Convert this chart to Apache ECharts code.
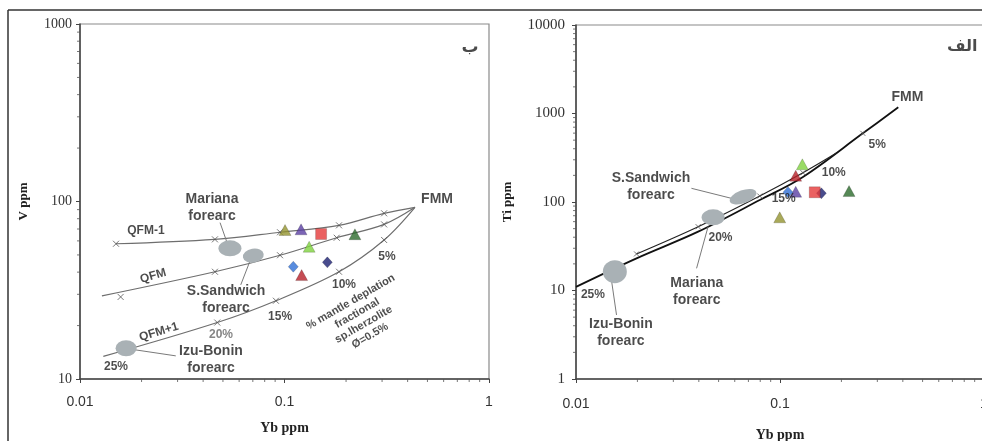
<!DOCTYPE html>
<html><head><meta charset="utf-8">
<script src="https://cdn.jsdelivr.net/npm/echarts@6/dist/echarts.min.js"></script>
<style>html,body{margin:0;padding:0;background:#fff}#c{width:982px;height:441px}</style>
</head><body><div id="c"></div>
<script>
// ---- tick labels ----
const xTickLabels = ['0.01', '0.1', '1'];
const vTickLabels = ['10', '100', '1000'];
const tiTickLabels = ['1', '10', '100', '1000', '10000'];
const xMinorTicks = [0.02,0.03,0.04,0.05,0.06,0.07,0.08,0.09,0.2,0.3,0.4,0.5,0.6,0.7,0.8,0.9];
const vMinorTicks = [20,30,40,50,60,70,80,90,200,300,400,500,600,700,800,900];
const tiMinorTicks = [2,3,4,5,6,7,8,9,20,30,40,50,60,70,80,90,200,300,400,500,600,700,800,900,2000,3000,4000,5000,6000,7000,8000,9000];

// ---- samples ----
const sampleSymbols = ['triangle','triangle','diamond','diamond','rect','triangle','triangle','triangle'];
const sampleColors = ['#939330','#5a3ea3','#2f6fd6','#1b1f70','#e53a3a','#2c6a2c','#80d23e','#b71f28'];
const ybV  = [0.1006, 0.1205, 0.1104, 0.162, 0.151, 0.221, 0.132, 0.1213];
const vPpm = [69.1, 69.7, 42.9, 45.4, 65.6, 65.4, 55.6, 38.5];
const ybTi = [0.0997, 0.1194, 0.1094, 0.1595, 0.148, 0.218, 0.1287, 0.1194];
const tiPpm = [67.1, 130.7, 128.8, 125.4, 128.8, 133, 266.6, 198];

// ---- melting curves (V panel) ----
const qfmMinus1 = [[0.0150,57.8],[0.0457,61.2],[0.0951,67.1],[0.1848,73.4],[0.307,85.8],[0.4345,92.7]];
const qfm       = [[0.0128,29.4],[0.0457,40.2],[0.0951,49.8],[0.180,62.5],[0.307,74.3],[0.4345,92.7]];
const qfmPlus1  = [[0.0130,13.4],[0.0469,20.8],[0.0908,27.6],[0.1848,40.2],[0.307,60.7],[0.4345,92.7]];
const vSteps = [[0.0150,57.8],[0.0457,61.2],[0.0951,67.1],[0.1848,73.4],[0.307,85.8],
                [0.0158,29.0],[0.0457,40.2],[0.0951,49.8],[0.180,62.5],[0.307,74.3],
                [0.0469,20.8],[0.0908,27.6],[0.1848,40.2],[0.307,60.7]];
// ---- melting curves (Ti panel) ----
const tiLower = [[0.01,11.0],[0.0198,23.1],[0.0397,46.2],[0.0796,105.3],[0.1296,192],[0.2547,597],[0.38,1175]];
const tiUpper = [[0.0198,25.9],[0.0397,52.6],[0.0796,116.9],[0.1296,214],[0.189,357]];
const tiSteps = [[0.0198,25.9],[0.0397,52.6],[0.0796,116.9],[0.1296,214],[0.2547,597]];

// ---- forearc fields ----
const vFields  = [[0.0541,54.5],[0.0704,49.5],[0.0168,14.9]];   // Mariana, S.Sandwich, Izu-Bonin
const tiFields = [[0.047,67.1],[0.0659,114.8],[0.0155,16.3]];
const vLeaders  = [[[0.0484,76.0],[0.0521,59.7]],[[0.0678,46.2],[0.0611,33.9]],[[0.0186,14.6],[0.0294,13.5]]];
const tiLeaders = [[[0.0368,142.8],[0.0578,110]],[[0.0444,52.6],[0.039,17.8]],[[0.01496,12.6],[0.0158,5.29]]];

// ---- annotations ----
const vLabels = [
  [0.807,741,'ب'],[0.557,103.3,'FMM'],[0.0442,91.9,'Mariana\nforearc'],[0.0210,68.2,'QFM-1'],
  [0.0228,38.0,'QFM'],[0.0518,27.9,'S.Sandwich\nforearc'],[0.0243,18.4,'QFM+1'],[0.0489,17.7,'20%'],
  [0.0951,22.4,'15%'],[0.1954,33.9,'10%'],[0.317,48.7,'5%'],[0.0150,11.8,'25%'],
  [0.0437,12.8,'Izu-Bonin\nforearc'],[0.235,21.8,'% mantle deplation\nfractional\nsp.lherzolite\nØ=0.5%']
];
const tiLabels = [
  [0.783,5640,'الف'],[0.4217,1536,'FMM'],[0.0233,149.7,'S.Sandwich\nforearc'],[0.2998,440.6,'5%'],
  [0.1834,212.6,'10%'],[0.1042,108,'15%'],[0.0511,39.2,'20%'],[0.0121,8.9,'25%'],
  [0.0391,9.75,'Mariana\nforearc'],[0.0166,3.35,'Izu-Bonin\nforearc']
];

// ---- styles (kept separate) ----
const vLabelStyle = [
  {fs:17,ff:'DejaVu Sans'},{fs:14},{fs:14,lh:17},{fs:12},{fs:12,r:16},{fs:14,lh:17},{fs:12,r:17},{fs:12,c:'#666'},
  {fs:12},{fs:12},{fs:12},{fs:12},{fs:14,lh:17},{fs:11,r:30,lh:13}
];
const tiLabelStyle = [
  {fs:16,ff:'DejaVu Sans'},{fs:14},{fs:14,lh:17},{fs:12},{fs:12},{fs:12},{fs:12},{fs:12},{fs:14,lh:17},{fs:14,lh:17}
];
const vFieldShape = [[23,16,0],[21,14,10],[21,16,0]];
const tiFieldShape = [[23,16,0],[28,13,20],[24,23,0]];

function tickFmt(labels, offset){
  return v => labels[Math.round(Math.log10(v)) + offset] || '';
}
function xAxisCfg(gi, nameGap, margin, fs){
  return {type:'log', logBase:10, min:0.01, max:1, gridIndex:gi,
    name:'Yb ppm', nameLocation:'middle', nameGap:nameGap,
    nameTextStyle:{fontFamily:'Liberation Serif', fontWeight:'bold', fontSize:14, color:'#222'},
    axisLine:{show:true, lineStyle:{color:'#444', width:1.5}},
    axisTick:{show:true, length:4, lineStyle:{color:'#444'}},
    axisLabel:{margin:margin, fontFamily:'Liberation Sans', fontSize:fs, color:'#333', formatter:tickFmt(xTickLabels,2)},
    splitLine:{show:false}};
}
function yAxisCfg(gi, name, min, max, labels, off, nameGap, margin, fs){
  return {type:'log', logBase:10, min:min, max:max, gridIndex:gi,
    name:name, nameLocation:'middle', nameGap:nameGap,
    nameTextStyle:{fontFamily:'Liberation Serif', fontWeight:'bold', fontSize:13, color:'#222'},
    axisLine:{show:true, lineStyle:{color:'#444', width:1.5}},
    axisTick:{show:true, length:4, lineStyle:{color:'#444'}},
    axisLabel:{margin:margin, fontFamily:'Liberation Serif', fontSize:fs, color:'#333', formatter:tickFmt(labels,off)},
    splitLine:{show:false}};
}
function lineS(i, data, color, width){
  return {type:'line', xAxisIndex:i, yAxisIndex:i, data:data, smooth:0.35, showSymbol:false, silent:true,
    lineStyle:{color:color, width:width}, z:2};
}
function stepS(i, data, color, size){
  return {type:'scatter', xAxisIndex:i, yAxisIndex:i, data:data, silent:true, z:3,
    symbol:'path://M0,0L10,10M10,0L0,10', symbolSize:size,
    itemStyle:{color:'none', borderColor:color, borderWidth:1}};
}
function fieldS(i, pts, shapes){
  return {type:'scatter', xAxisIndex:i, yAxisIndex:i, silent:true, z:4,
    data: pts.map((p,k)=>({value:p, symbol:'circle', symbolSize:[shapes[k][0],shapes[k][1]], symbolRotate:shapes[k][2]})),
    itemStyle:{color:'#a9b1b5', opacity:1}};
}
function leaderS(i, segs){
  return segs.map(s=>({type:'line', xAxisIndex:i, yAxisIndex:i, data:s, showSymbol:false, silent:true,
    lineStyle:{color:'#7a7a7a', width:1}, z:3}));
}
function sampleS(i, xs, ys){
  return {type:'scatter', xAxisIndex:i, yAxisIndex:i, silent:true, z:6,
    data: xs.map((x,k)=>({value:[x,ys[k]], symbol:sampleSymbols[k],
      symbolSize: sampleSymbols[k]==='rect' ? 11 : (sampleSymbols[k]==='diamond' ? [10,11] : [12,11]),
      itemStyle:{color:sampleColors[k], borderColor:'rgba(0,0,0,0.35)', borderWidth:0.6}}))};
}
function labelS(i, labels, styles){
  return {type:'scatter', xAxisIndex:i, yAxisIndex:i, silent:true, z:7, clip:false,
    symbolSize:1, itemStyle:{color:'rgba(0,0,0,0)'},
    data: labels.map((l,k)=>{
      const st = styles[k];
      return {value:[l[0],l[1]], label:{show:true, position:'inside', formatter:l[2],
        fontSize:st.fs, fontWeight:'bold', color:st.c||'#1e1e1e', rotate:st.r||0,
        fontFamily:st.ff||'Liberation Sans', lineHeight:st.lh||Math.round(st.fs*1.2), align:'center'}};
    })};
}
function minorS(i, data, size, offset){
  return {type:'scatter', xAxisIndex:i, yAxisIndex:i, silent:true, z:8, clip:false,
    data:data, symbol:'rect', symbolSize:size, symbolOffset:offset, itemStyle:{color:'#555'}};
}

const chart = echarts.init(document.getElementById('c'), null, {renderer:'canvas'});
chart.setOption({
  animation:false,
  backgroundColor:'#fff',
  grid:[
    {left:80, top:24, width:409, height:355, show:true, borderColor:'#8a8a8a', borderWidth:1.2, outerBoundsMode:'none', containLabel:false},
    {left:576, top:25, width:408, height:354, show:true, borderColor:'#8a8a8a', borderWidth:1.2, outerBoundsMode:'none', containLabel:false}
  ],
  xAxis:[xAxisCfg(0, 42, 16, 14), xAxisCfg(1, 49, 18, 14)],
  yAxis:[yAxisCfg(0,'V ppm',10,1000,vTickLabels,-1,50,8,14), yAxisCfg(1,'Ti ppm',1,10000,tiTickLabels,0,62,11,15)],
  graphic:[
    {type:'line', shape:{x1:8,y1:10,x2:982,y2:10}, style:{stroke:'#333', lineWidth:1.5}, z:100},
    {type:'line', shape:{x1:8,y1:10,x2:8,y2:441}, style:{stroke:'#333', lineWidth:1.5}, z:100}
  ],
  series:[
    lineS(0, qfmMinus1, '#6e6e6e', 1.2),
    lineS(0, qfm, '#6e6e6e', 1.2),
    lineS(0, qfmPlus1, '#6e6e6e', 1.2),
    stepS(0, vSteps, '#555', 6),
    ...leaderS(0, vLeaders),
    fieldS(0, vFields, vFieldShape),
    sampleS(0, ybV, vPpm),
    labelS(0, vLabels, vLabelStyle),
    minorS(0, xMinorTicks.map(v=>[v,10]), [1,3], [0,1.5]),
    minorS(0, vMinorTicks.map(v=>[0.01,v]), [3,1], [-1.5,0]),

    lineS(1, tiLower, '#111', 1.8),
    lineS(1, tiUpper, '#222', 1.1),
    stepS(1, tiSteps, '#555', 5),
    ...leaderS(1, tiLeaders),
    fieldS(1, tiFields, tiFieldShape),
    sampleS(1, ybTi, tiPpm),
    labelS(1, tiLabels, tiLabelStyle),
    minorS(1, xMinorTicks.map(v=>[v,1]), [1,3], [0,1.5]),
    minorS(1, tiMinorTicks.map(v=>[0.01,v]), [3,1], [-1.5,0])
  ]
});
</script></body></html>
